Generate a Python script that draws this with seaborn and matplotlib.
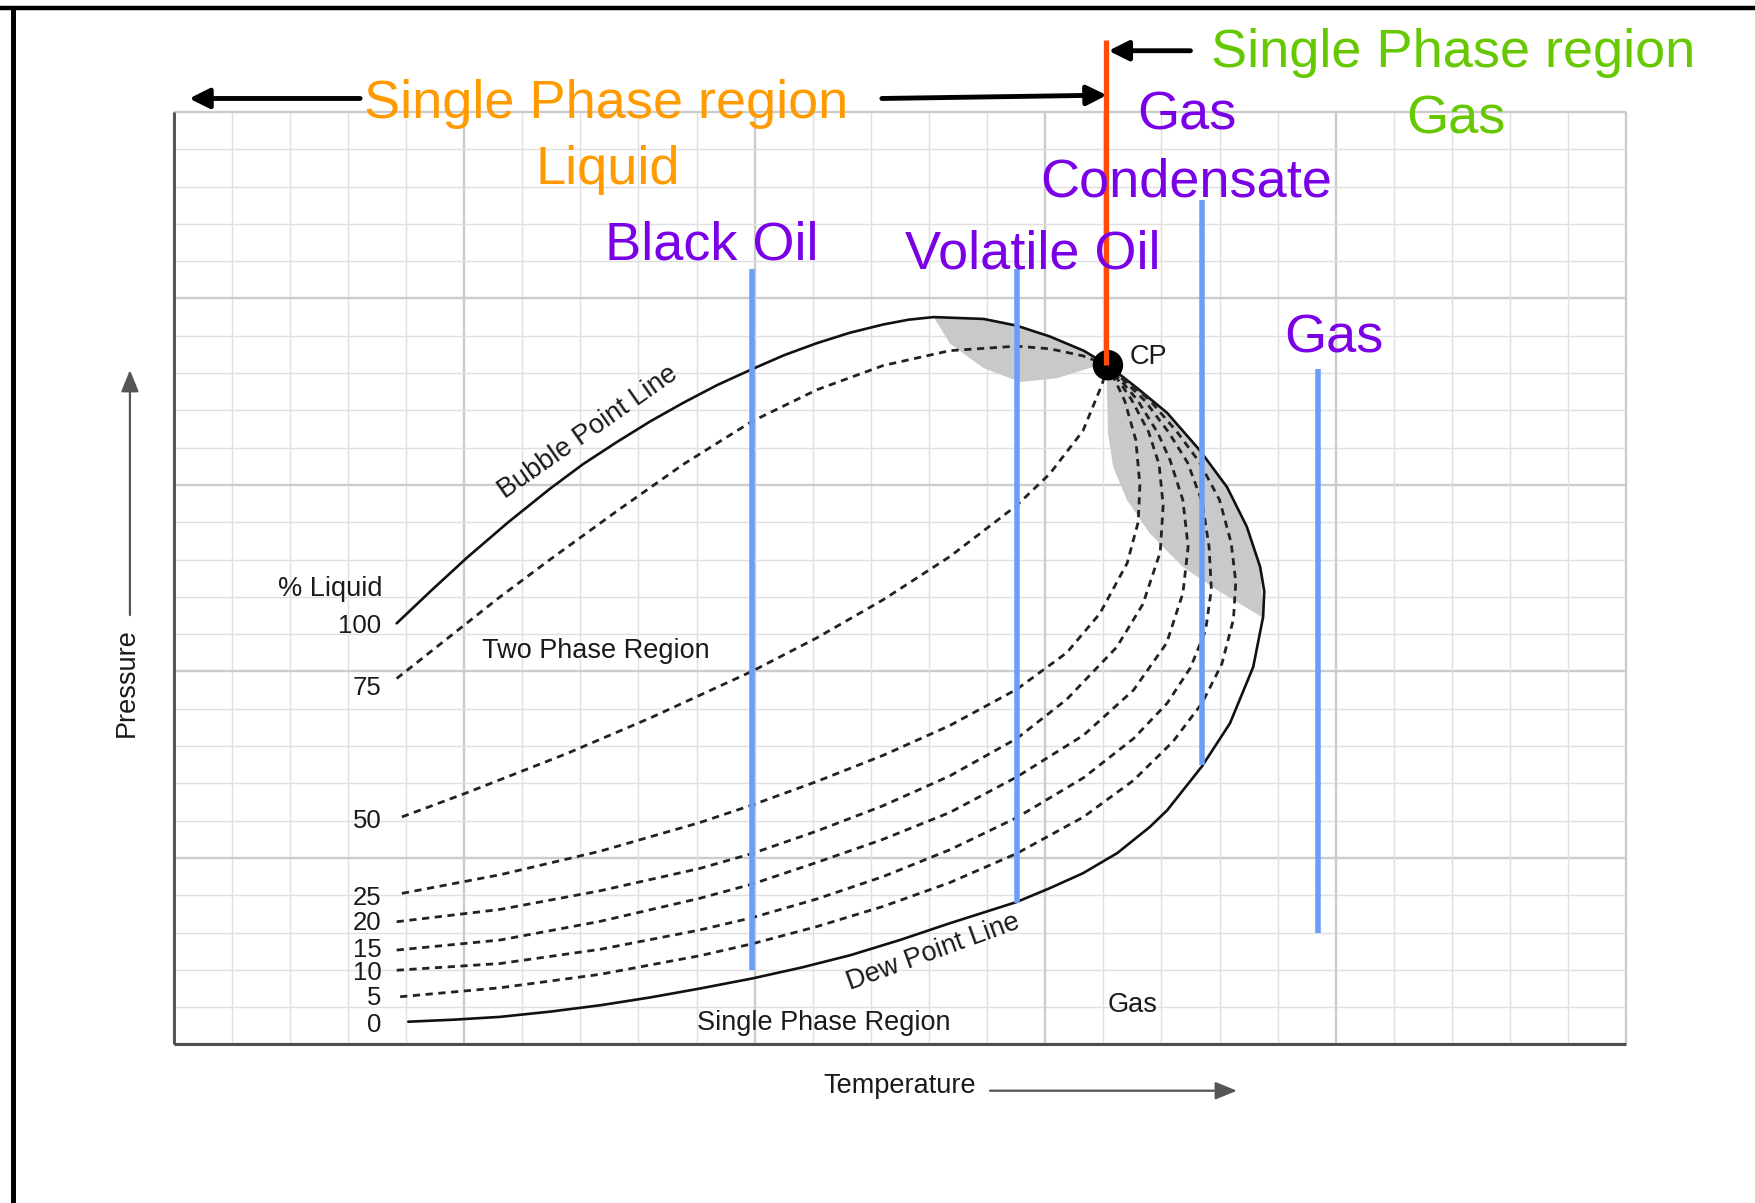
import numpy as np
import pandas as pd
import matplotlib
matplotlib.use("Agg")
import matplotlib.pyplot as plt
from matplotlib.lines import Line2D
import seaborn as sns

# ===================== 数据（网格单位：25 x 25 格，从原图读取） =====================
# 相包络线：泡点线 / 露点线
bubble_T = [3.84, 4.45, 5.05, 5.76, 6.48, 7.05, 7.63, 8.20, 8.77, 9.36, 9.95, 10.51, 11.07, 11.64,
            12.21, 12.65, 13.08, 13.94, 14.51, 15.08, 15.66, 16.08]
bubble_P = [11.29, 12.19, 13.05, 14.00, 14.90, 15.56, 16.15, 16.70, 17.20, 17.68, 18.10, 18.48, 18.80, 19.08,
            19.30, 19.43, 19.50, 19.45, 19.27, 18.98, 18.60, 18.21]
dew_T = [4.04, 4.83, 5.62, 6.48, 7.34, 8.20, 9.06, 9.96, 10.80, 11.64, 12.50, 13.36, 14.51, 15.08, 15.65,
         16.24, 16.80, 17.10, 17.70, 18.18, 18.58, 18.75, 18.77, 18.70, 18.47, 18.13, 17.66, 17.10, 16.58, 16.08]
dew_P = [0.61, 0.665, 0.74, 0.88, 1.05, 1.26, 1.50, 1.77, 2.06, 2.39, 2.80, 3.25, 3.82, 4.19, 4.59,
         5.13, 5.83, 6.28, 7.46, 8.61, 10.12, 11.46, 12.15, 12.80, 13.88, 14.94, 15.93, 16.93, 17.60, 18.21]

# 等液量线（% Liquid）
q75_T = [3.84, 5.62, 6.48, 7.63, 8.77, 9.95, 11.07, 12.21, 13.36, 14.51, 15.08, 15.65, 16.08]
q75_P = [9.81, 12.00, 13.00, 14.30, 15.55, 16.70, 17.55, 18.20, 18.60, 18.72, 18.65, 18.46, 18.21]
q50_T = [3.93, 5.05, 6.77, 8.20, 9.95, 11.07, 12.21, 13.36, 14.51, 15.08, 15.65, 15.98, 16.08]
q50_P = [6.10, 6.75, 7.80, 8.75, 10.00, 10.90, 11.92, 13.08, 14.45, 15.30, 16.45, 17.70, 18.21]
q25_T = [3.93, 5.62, 7.34, 9.06, 9.96, 11.07, 12.21, 13.36, 14.51, 15.37, 15.94, 16.41, 16.60, 16.63,
         16.56, 16.37, 16.08]
q25_P = [4.05, 4.55, 5.18, 5.95, 6.42, 7.05, 7.75, 8.55, 9.52, 10.50, 11.55, 12.90, 14.00, 15.00,
         16.20, 17.25, 18.21]
q20_T = [3.84, 5.62, 7.34, 9.06, 9.96, 11.07, 12.21, 13.36, 14.51, 15.37, 16.23, 16.68, 16.98, 17.03,
         16.96, 16.78, 16.48, 16.08]
q20_P = [3.29, 3.62, 4.12, 4.72, 5.12, 5.72, 6.40, 7.20, 8.20, 9.25, 10.65, 11.80, 13.20, 14.45,
         15.55, 16.42, 17.30, 18.21]
q15_T = [3.84, 5.62, 7.34, 9.06, 9.96, 11.07, 12.21, 13.36, 14.51, 15.66, 16.52, 17.09, 17.37, 17.46,
         17.37, 17.15, 16.94, 16.59, 16.08]
q15_P = [2.53, 2.80, 3.30, 3.92, 4.30, 4.88, 5.50, 6.22, 7.17, 8.29, 9.50, 10.76, 12.10, 13.34,
         14.59, 15.66, 16.39, 17.27, 18.21]
q10_T = [3.84, 5.62, 7.34, 9.06, 9.96, 11.07, 12.21, 13.36, 14.51, 15.66, 16.52, 17.10, 17.50, 17.76,
         17.86, 17.82, 17.70, 17.45, 17.13, 16.72, 16.08]
q10_P = [1.99, 2.17, 2.55, 3.07, 3.40, 3.90, 4.50, 5.22, 6.08, 7.15, 8.20, 9.15, 10.10, 11.10,
         12.20, 13.35, 14.55, 15.60, 16.40, 17.25, 18.21]
q05_T = [3.90, 5.62, 7.34, 9.06, 9.96, 11.07, 12.21, 13.36, 14.51, 15.66, 16.52, 17.20, 17.70, 18.04,
         18.24, 18.28, 18.20, 18.00, 17.65, 17.27, 16.80, 16.08]
q05_P = [1.28, 1.52, 1.88, 2.38, 2.70, 3.16, 3.70, 4.34, 5.12, 6.10, 7.08, 8.12, 9.15, 10.20,
         11.40, 12.40, 13.45, 14.60, 15.62, 16.42, 17.27, 18.21]

# 临界点
cp_T, cp_P = 16.08, 18.21

# 灰色阴影区（反凝析区）
lens_T = [13.08, 13.94, 14.51, 15.08, 15.66, 16.08, 15.82, 15.20, 14.57, 13.94, 13.36]
lens_P = [19.50, 19.45, 19.27, 18.98, 18.60, 18.21, 18.16, 17.86, 17.76, 18.13, 18.79]
retro_T = [16.08, 16.06, 16.08, 16.17, 16.41, 16.80, 17.37, 17.96, 18.73,
           18.75, 18.70, 18.47, 18.13, 17.66, 17.10, 16.58]
retro_P = [18.21, 17.80, 16.39, 15.48, 14.59, 13.70, 12.80, 12.18, 11.46,
           11.46, 12.80, 13.88, 14.94, 15.93, 16.93, 17.60]

# % Liquid 标注
liquid_labels = ["100", "75", "50", "25", "20", "15", "10", "5", "0"]
liquid_label_P = [11.04, 9.36, 5.79, 3.73, 3.08, 2.35, 1.72, 1.05, 0.34]

# 油藏类型竖线
well_T = [9.96, 14.51, 17.70, 19.70]
well_top = [20.78, 20.78, 22.64, 18.12]
well_bottom = [1.99, 3.79, 7.49, 2.98]
well_names = ["Black Oil", "Volatile Oil", "Condensate", "Gas"]
well_label_T = [9.27, 14.79, 17.42, 19.97]
well_label_P = [21.05, 20.80, 22.72, 18.54]

# ===================== 样式 =====================
sns.set_style("white")
plt.rcParams["font.family"] = ["Liberation Sans", "DejaVu Sans"]

PURPLE = "#7A00E6"
ORANGE = "#FF9A00"
GREEN = "#66C800"
BLUE = "#6D9EF7"
RED = "#FF4A0A"
INK = "#1a1a1a"

fig = plt.figure(figsize=(17.55, 12.03), dpi=100)
ax = fig.add_axes([0, 0, 1, 1])

# 网格
for v in range(26):
    major = v % 5 == 0
    c = "#cccccc" if major else "#e0e0e0"
    lw = 1.7 if major else 1.0
    ax.vlines(v, 0, 25, color=c, lw=lw, zorder=0)
    ax.hlines(v, 0, 25, color=c, lw=lw, zorder=0)
ax.vlines(0, 0, 25, color="#4d4d4d", lw=2.0, zorder=1)
ax.hlines(0, 0, 25, color="#4d4d4d", lw=2.2, zorder=1)

# 阴影
ax.fill(lens_T, lens_P, color="#c9c9c9", lw=0, zorder=1.5)
ax.fill(retro_T, retro_P, color="#c9c9c9", lw=0, zorder=1.5)

# 泡点线 + 露点线
solid_df = pd.concat([
    pd.DataFrame({"T": bubble_T, "P": bubble_P, "curve": "bubble"}),
    pd.DataFrame({"T": dew_T, "P": dew_P, "curve": "dew"}),
])
sns.lineplot(data=solid_df, x="T", y="P", units="curve", estimator=None, sort=False,
             color="#111111", lw=1.9, legend=False, ax=ax, zorder=3,
             solid_joinstyle="round", solid_capstyle="round")

# 等液量虚线
quality = {"75": (q75_T, q75_P), "50": (q50_T, q50_P), "25": (q25_T, q25_P),
           "20": (q20_T, q20_P), "15": (q15_T, q15_P), "10": (q10_T, q10_P), "5": (q05_T, q05_P)}
dashed_df = pd.concat([pd.DataFrame({"T": t, "P": p, "curve": k}) for k, (t, p) in quality.items()])
sns.lineplot(data=dashed_df, x="T", y="P", units="curve", estimator=None, sort=False,
             color="#222222", lw=2.0, linestyle=(0, (2.6, 2.0)), legend=False, ax=ax, zorder=3)

# 油藏类型竖线
ax.vlines(well_T, well_bottom, well_top, color=BLUE, lw=4, zorder=4)

# 临界点
sns.scatterplot(x=[cp_T], y=[cp_P], s=480, color="black", edgecolor="none", ax=ax, zorder=6)
ax.vlines(16.04, cp_P, 26.93, color=RED, lw=3.8, zorder=7)

# 箭头
def arrow(tail, tip, lw=3.5, color="black", style="-|>,head_length=0.6,head_width=0.3", ms=20):
    ax.annotate("", xy=tip, xytext=tail,
                arrowprops=dict(arrowstyle=style, lw=lw, color=color, mutation_scale=ms,
                                shrinkA=0, shrinkB=0), zorder=8)

arrow((3.21, 25.36), (0.27, 25.36))
arrow((12.19, 25.36), (16.06, 25.45))
arrow((17.50, 26.64), (16.09, 26.64))
arrow((-0.75, 11.51), (-0.75, 18.08), lw=1.6, color="#555555",
      style="-|>,head_length=1.1,head_width=0.45", ms=12)
arrow((14.05, -1.24), (18.30, -1.24), lw=1.6, color="#555555",
      style="-|>,head_length=1.1,head_width=0.45", ms=12)

# 彩色注释
big = 39
ax.text(7.44, 24.85, "Single Phase region", color=ORANGE, fontsize=big, ha="center", va="baseline")
ax.text(7.48, 23.06, "Liquid", color=ORANGE, fontsize=big, ha="center", va="baseline")
ax.text(22.02, 26.21, "Single Phase region", color=GREEN, fontsize=big, ha="center", va="baseline")
ax.text(22.07, 24.42, "Gas", color=GREEN, fontsize=big, ha="center", va="baseline")
ax.text(17.44, 24.53, "Gas", color=PURPLE, fontsize=big, ha="center", va="baseline")
for name, x, y in zip(well_names, well_label_T, well_label_P):
    ax.text(x, y, name, color=PURPLE, fontsize=big, ha="center", va="baseline", zorder=9)

# 黑色标注
fs = 19.5
ax.text(3.59, 12.02, "% Liquid", color=INK, fontsize=19.5, ha="right", va="baseline")
for lab, y in zip(liquid_labels, liquid_label_P):
    ax.text(3.58, y, lab, color=INK, fontsize=18.5, ha="right", va="baseline")
ax.text(5.31, 10.35, "Two Phase Region", color=INK, fontsize=fs, ha="left", va="baseline")
ax.text(11.19, 0.38, "Single Phase Region", color=INK, fontsize=fs, ha="center", va="baseline")
ax.text(16.51, 0.87, "Gas", color=INK, fontsize=fs, ha="center", va="baseline")
ax.text(16.46, 18.24, "CP", color=INK, fontsize=fs, ha="left", va="baseline")
ax.text(7.13, 16.41, "Bubble Point Line", color=INK, fontsize=fs, rotation=35,
        rotation_mode="anchor", ha="center", va="center")
ax.text(13.07, 2.48, "Dew Point Line", color=INK, fontsize=fs, rotation=20,
        rotation_mode="anchor", ha="center", va="center")
ax.text(12.50, -1.31, "Temperature", color=INK, fontsize=fs, ha="center", va="baseline")
ax.text(-0.69, 9.69, "Pressure", color=INK, fontsize=fs, rotation=90,
        rotation_mode="anchor", ha="center", va="baseline")

ax.set_xlim(-2.986, 27.215)
ax.set_ylim(-4.25, 28.0)
ax.axis("off")

# 外框（上、左）
fig.add_artist(Line2D([0, 1], [1 - 8 / 1203] * 2, transform=fig.transFigure, color="black", lw=3.2))
fig.add_artist(Line2D([12.5 / 1755] * 2, [0, 1 - 8 / 1203], transform=fig.transFigure, color="black", lw=3.6))

fig.savefig("out.png", dpi=100)
plt.close(fig)
